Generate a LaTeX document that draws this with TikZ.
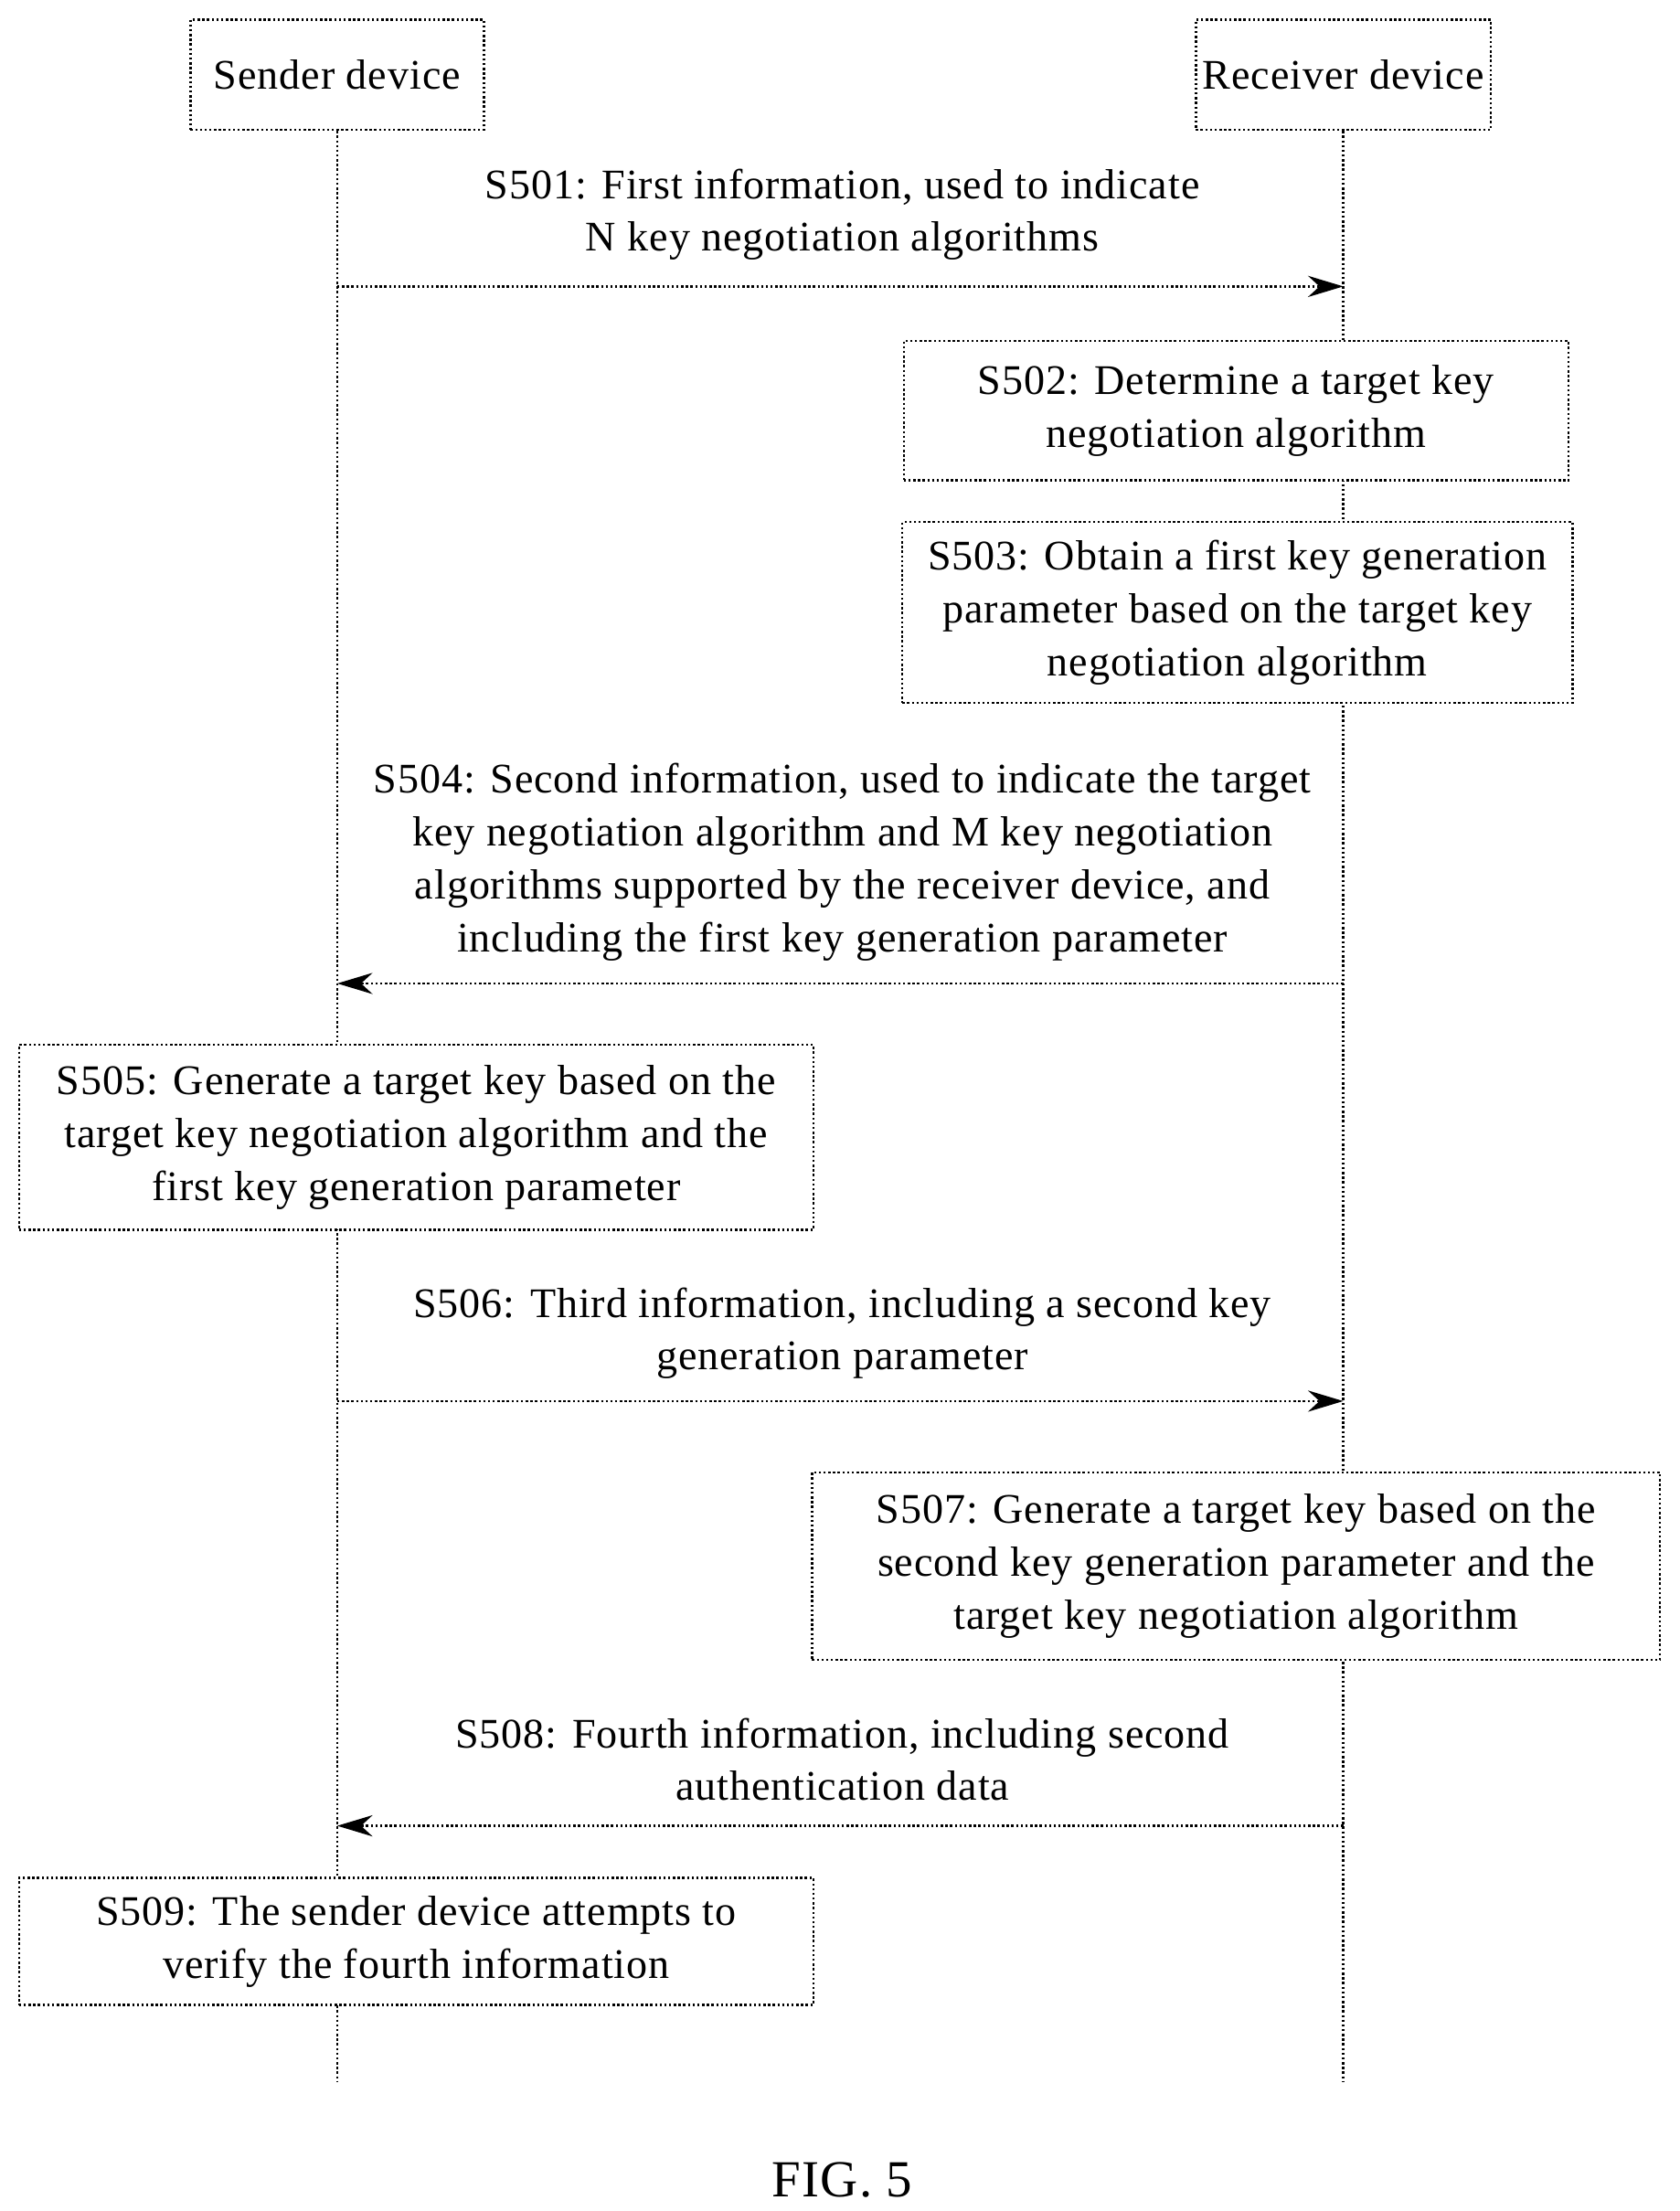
\documentclass[tikz,border=0pt]{standalone}
\usepackage{fontspec}
\setmainfont{Liberation Serif}[LetterSpace=2]
\usetikzlibrary{arrows.meta}

\tikzset{
    box/.style = {draw, densely dotted, line width=0.9pt, align=center, inner sep=0pt},
    life/.style = {densely dotted, line width=0.9pt},
    msg/.style = {densely dotted, line width=0.9pt, -{Stealth[length=5mm, width=3mm]}},
    lbl/.style = {align=center}
}

\begin{document}
\begin{tikzpicture}[x=0.02cm, y=-0.02cm, font=\fontsize{17}{21.3}\selectfont]

    \useasboundingbox (0,0) rectangle (1190,1567);

    % participants
    \node [box, minimum width=208*0.02cm, minimum height=78*0.02cm] (sender) at (239,53) {Sender device};
    \node [box, minimum width=209*0.02cm, minimum height=78*0.02cm] (receiver) at (952,53) {Receiver device};

    \coordinate (sEnd) at (239,1475);
    \coordinate (rEnd) at (952,1475);
    \draw [life] (sender.south) -- (sEnd);
    \draw [life] (receiver.south) -- (rEnd);

    % S501
    \coordinate (s1) at (239,203);
    \coordinate (r1) at (952,203);
    \draw [msg] (s1) -- (r1);
    \node [lbl] (m501) at (597,152) {S501: First information, used to indicate\\N key negotiation algorithms};

    % S502, S503
    \node [box, fill=white, minimum width=471*0.02cm, minimum height=99*0.02cm] (b502) at (876,291)
        {S502: Determine a target key\\negotiation algorithm};
    \node [box, fill=white, minimum width=475*0.02cm, minimum height=128*0.02cm] (b503) at (877,434)
        {S503: Obtain a first key generation\\parameter based on the target key\\negotiation algorithm};

    % S504
    \coordinate (s4) at (239,697);
    \coordinate (r4) at (952,697);
    \draw [msg] (r4) -- (s4);
    \node [lbl] (m504) at (597,611) {S504: Second information, used to indicate the target\\key negotiation algorithm and M key negotiation\\algorithms supported by the receiver device, and\\including the first key generation parameter};

    % S505
    \node [box, fill=white, minimum width=563*0.02cm, minimum height=131*0.02cm] (b505) at (295,806)
        {S505: Generate a target key based on the\\target key negotiation algorithm and the\\first key generation parameter};

    % S506
    \coordinate (s6) at (239,993);
    \coordinate (r6) at (952,993);
    \draw [msg] (s6) -- (r6);
    \node [lbl] (m506) at (597,945) {S506: Third information, including a second key\\generation parameter};

    % S507
    \node [box, fill=white, minimum width=601*0.02cm, minimum height=133*0.02cm] (b507) at (876,1110)
        {S507: Generate a target key based on the\\second key generation parameter and the\\target key negotiation algorithm};

    % S508
    \coordinate (s8) at (239,1294);
    \coordinate (r8) at (952,1294);
    \draw [msg] (r8) -- (s8);
    \node [lbl] (m508) at (597,1247) {S508: Fourth information, including second\\authentication data};

    % S509
    \node [box, fill=white, minimum width=563*0.02cm, minimum height=90*0.02cm] (b509) at (295,1376)
        {S509: The sender device attempts to\\verify the fourth information};

    \node [font=\fontsize{21}{25}\selectfont] (fig) at (597,1545) {FIG. 5};

\end{tikzpicture}
\end{document}
